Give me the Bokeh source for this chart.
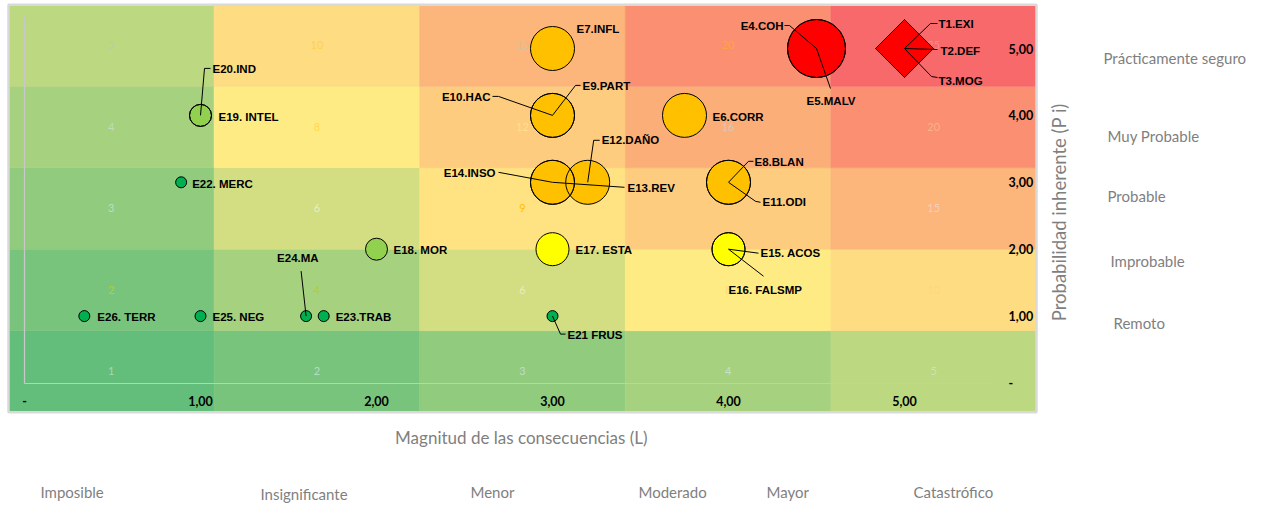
import numpy as np
from bokeh.plotting import figure
from bokeh.models import Range1d, LinearAxis, FixedTicker, ColumnDataSource
from bokeh.core.properties import value
from bokeh.embed import file_html
from bokeh.resources import INLINE

# ------------------------------------------------------------------ data
impact_labels = ["Imposible", "Insignificante", "Menor", "Moderado", "Mayor", "Catastrófico"]
prob_labels = ["Remoto", "Improbable", "Probable", "Muy Probable", "Prácticamente seguro"]
x_tick_values = [0, 1, 2, 3, 4, 5]
x_tick_labels = ["-", "1,00", "2,00", "3,00", "4,00", "5,00"]
y_tick_values = [0, 1, 2, 3, 4, 5]
y_tick_labels = ["-", "1,00", "2,00", "3,00", "4,00", "5,00"]
grid_cols = [1, 2, 3, 4, 5]          # consecuencia (L)
grid_rows = [1, 2, 3, 4, 5]          # probabilidad (P)

risk_ids = ["T1.EXI", "T2.DEF", "T3.MOG", "E4.COH", "E5.MALV", "E6.CORR", "E7.INFL",
            "E8.BLAN", "E9.PART", "E10.HAC", "E11.ODI", "E12.DAÑO", "E13.REV", "E14.INSO",
            "E15. ACOS", "E16. FALSMP", "E17. ESTA", "E18. MOR", "E19. INTEL", "E20.IND",
            "E21 FRUS", "E22. MERC", "E23.TRAB", "E24.MA", "E25. NEG", "E26. TERR"]
magnitud = [5, 5, 5, 4.5, 4.5, 3.75, 3, 4, 3, 3, 4, 3.2, 3, 3,
            4, 4, 3, 2, 1, 1, 3, 0.89, 1.7, 1.6, 1, 0.34]
probabilidad = [5, 5, 5, 5, 5, 4, 5, 3, 4, 4, 3, 3, 3, 3,
                2, 2, 2, 2, 4, 4, 1, 3, 1, 1, 1, 1]
nivel = [5, 5, 5, 5, 5, 4, 4, 4, 4, 4, 4, 4, 4, 4,
         3, 3, 3, 2, 2, 2, 1, 1, 1, 1, 1, 1]

# ------------------------------------------------------------------ styles / layout
W, H = 1258, 505
FONT_LBL = "Liberation Sans"
FONT_TXT = "Lato"
GREY = "#7f7f7f"

LEVEL_COLOR = {1: "#00b050", 2: "#92d050", 3: "#ffff00", 4: "#ffc000", 5: "#ff0000"}
LEVEL_SIZE = {1: 11, 2: 22, 3: 33, 4: 44, 5: 58}
DIAMOND_SIZE = 41

# heat-map geometry (canvas px)
HM_LEFT, HM_COLW, HM_ROWH, HM_BOTTOM = 8.0, 205.6, 81.5, 411.7
# scatter geometry (canvas px)
SX0, SXU, SY0, SYU = 24.0, 176.0, 382.5, 66.9

NUM_COLORS = {
    5: ["#b3d0a6", "#ffd24d", "#cfc3a3", "#ffa347", "#fb8a8a"],
    4: ["#c2dbb8", "#ffd94d", "#ffe08a", "#d8c8b8", "#fbb08a"],
    3: ["#c0dcc0", "#e8ecc8", "#ffc000", "#ffd070", "#f5d0b8"],
    2: ["#b0d030", "#b0d030", "#e6ecc8", "#ffd680", "#ffd680"],
    1: ["#a8d8b0", "#b8dcc0", "#c0dcc0", "#c8e0c8", "#d0e0b8"],
}

# label anchor offsets (px from point centre), alignment, leader polyline (px)
LABELS = {
    "T1.EXI": (34, -24.5, "left", [(0, 0), (26, -25), (33, -25)]),
    "T2.DEF": (36, 2, "left", [(0, 0), (33, 1)]),
    "T3.MOG": (34, 32, "left", [(0, 0), (27, 28), (33, 29)]),
    "E4.COH": (-33, -22.3, "right", [(0, 0), (-27, -23), (-32, -23)]),
    "E5.MALV": (-10, 52, "left", [(0, 0), (14, 40)]),
    "E6.CORR": (28, 2, "left", None),
    "E7.INFL": (24, -20, "left", None),
    "E8.BLAN": (26, -20, "left", [(0, 0), (20, -21), (25, -21)]),
    "E9.PART": (30, -29, "left", [(0, 0), (23, -30), (28, -30)]),
    "E10.HAC": (-62, -18, "right", [(0, 0), (-54, -19), (-60, -19)]),
    "E11.ODI": (34, 20, "left", [(0, 0), (27, 19), (32, 20)]),
    "E12.DAÑO": (14, -42, "left", [(0, 0), (6, -42), (12, -42)]),
    "E13.REV": (75, 6, "left", [(0, 0), (72, 5)]),
    "E14.INSO": (-57, -9, "right", [(0, 0), (-54, -10)]),
    "E15. ACOS": (32, 4, "left", [(0, 0), (30, 4)]),
    "E16. FALSMP": (0, 41, "left", [(0, 0), (35, 27)]),
    "E17. ESTA": (23, 1, "left", None),
    "E18. MOR": (17, 1, "left", None),
    "E19. INTEL": (18, 2, "left", None),
    "E20.IND": (12, -46, "left", [(0, 0), (4, -47), (10, -47)]),
    "E21 FRUS": (15, 19, "left", [(0, 0), (8, 18), (13, 18)]),
    "E22. MERC": (11, 2, "left", None),
    "E23.TRAB": (12, 1, "left", None),
    "E24.MA": (-29, -58, "left", [(0, 0), (-5, -45)]),
    "E25. NEG": (12, 1, "left", None),
    "E26. TERR": (13, 1, "left", None),
}

# ------------------------------------------------------------------ figure
p = figure(width=W, height=H, x_range=Range1d(0, W), y_range=Range1d(H, 0),
           x_axis_type=None, y_axis_type=None, toolbar_location=None,
           output_backend="svg", min_border=0, outline_line_color=None,
           background_fill_color="white", border_fill_color="white")
p.extra_x_ranges = {
    "hx": Range1d(-HM_LEFT / HM_COLW, (W - HM_LEFT) / HM_COLW),
    "sx": Range1d(-SX0 / SXU, (W - SX0) / SXU),
}
p.extra_y_ranges = {
    "hy": Range1d((HM_BOTTOM - H) / HM_ROWH, HM_BOTTOM / HM_ROWH),
    "sy": Range1d((SY0 - H) / SYU, SY0 / SYU),
}


def excel_scale(v, vmin, vmid, vmax):
    lo, mid, hi = (0x63, 0xBE, 0x7B), (0xFF, 0xEB, 0x84), (0xF8, 0x69, 0x6B)
    if v <= vmid:
        t, a, b = (v - vmin) / (vmid - vmin), lo, mid
    else:
        t, a, b = (v - vmid) / (vmax - vmid), mid, hi
    return "#%02x%02x%02x" % tuple(int(round(a[i] + (b[i] - a[i]) * t)) for i in range(3))


cells = [(c, r) for r in grid_rows for c in grid_cols]
vals = [c * r for c, r in cells]
vmin, vmid, vmax = min(vals), float(np.percentile(vals, 50)), max(vals)
hm = ColumnDataSource(dict(
    left=[c - 1 for c, r in cells], right=[c for c, r in cells],
    bottom=[r - 1 for c, r in cells], top=[r for c, r in cells],
    xc=[c - 0.5 for c, r in cells], yc=[r - 0.5 for c, r in cells],
    val=[str(v) for v in vals],
    fill=[excel_scale(v, vmin, vmid, vmax) for v in vals],
    tcol=[NUM_COLORS[r][c - 1] for c, r in cells],
))
p.quad(left="left", right="right", bottom="bottom", top="top", source=hm,
       fill_color="fill", line_color="fill", line_width=0.6,
       x_range_name="hx", y_range_name="hy")
p.text(x="xc", y="yc", text="val", source=hm, text_color="tcol",
       text_font=value(FONT_TXT), text_font_size="11px", text_align="center",
       text_baseline="middle", x_range_name="hx", y_range_name="hy")
# chart-area border
p.quad(left=[0], right=[len(grid_cols)], bottom=[0], top=[len(grid_rows)],
       fill_color=None, line_color="#d9d9d9", line_width=2.5,
       x_range_name="hx", y_range_name="hy")

# ------------------------------------------------------------------ axes
bottom_ax = LinearAxis(x_range_name="sx", y_range_name="sy", fixed_location=0,
                       bounds=(0, 5.5), ticker=FixedTicker(ticks=x_tick_values),
                       major_label_overrides=dict(zip(x_tick_values, x_tick_labels)))
left_ax = LinearAxis(x_range_name="sx", y_range_name="sy", fixed_location=0,
                     bounds=(0, 5.478), ticker=FixedTicker(ticks=[]))
right_ax = LinearAxis(x_range_name="sx", y_range_name="sy", fixed_location=5.5625,
                      ticker=FixedTicker(ticks=y_tick_values),
                      major_label_overrides=dict(zip(y_tick_values, y_tick_labels)))
for ax in (bottom_ax, left_ax, right_ax):
    ax.major_tick_line_color = None
    ax.minor_tick_line_color = None
    ax.major_tick_in = 0
    ax.major_tick_out = 0
    ax.minor_tick_in = 0
    ax.minor_tick_out = 0
    ax.axis_line_color = "#c8c8c8"
    ax.axis_line_width = 1.2
    ax.major_label_text_font = FONT_TXT
    ax.major_label_text_font_style = "bold"
    ax.major_label_text_font_size = "12.5px"
    ax.major_label_text_color = "black"
right_ax.axis_line_color = None
bottom_ax.major_label_standoff = 13
right_ax.major_label_standoff = 5
p.add_layout(bottom_ax, "below")
p.add_layout(left_ax, "left")
p.add_layout(right_ax, "right")

# ------------------------------------------------------------------ bubbles
n = len(risk_ids)
is_t = [rid.startswith("T") for rid in risk_ids]
circ = ColumnDataSource(dict(
    x=[magnitud[i] for i in range(n) if not is_t[i]],
    y=[probabilidad[i] for i in range(n) if not is_t[i]],
    size=[LEVEL_SIZE[nivel[i]] for i in range(n) if not is_t[i]],
    color=[LEVEL_COLOR[nivel[i]] for i in range(n) if not is_t[i]],
))
diam = ColumnDataSource(dict(
    x=[magnitud[i] for i in range(n) if is_t[i]],
    y=[probabilidad[i] for i in range(n) if is_t[i]],
    color=[LEVEL_COLOR[nivel[i]] for i in range(n) if is_t[i]],
))
p.scatter("x", "y", source=circ, marker="circle", size="size", fill_color="color",
          line_color=None, x_range_name="sx", y_range_name="sy")
p.scatter("x", "y", source=circ, marker="circle", size="size", fill_color=None,
          line_color="black", line_width=1, x_range_name="sx", y_range_name="sy")
p.scatter("x", "y", source=diam, marker="square", angle=np.pi / 4, size=DIAMOND_SIZE,
          fill_color="color", line_color="black", line_width=1,
          x_range_name="sx", y_range_name="sy")

# ------------------------------------------------------------------ leaders + labels
lx, ly = [], []
for i, rid in enumerate(risk_ids):
    leader = LABELS[rid][3]
    if leader:
        lx.append([magnitud[i] + dx / SXU for dx, dy in leader])
        ly.append([probabilidad[i] - dy / SYU for dx, dy in leader])
p.multi_line(lx, ly, line_color="black", line_width=1,
             x_range_name="sx", y_range_name="sy")

for align in ("left", "right"):
    idx = [i for i, rid in enumerate(risk_ids) if LABELS[rid][2] == align]
    p.text(x=[magnitud[i] + LABELS[risk_ids[i]][0] / SXU for i in idx],
           y=[probabilidad[i] - LABELS[risk_ids[i]][1] / SYU for i in idx],
           text=[risk_ids[i] for i in idx], text_color="black",
           text_font=value(FONT_LBL), text_font_style="bold", text_font_size="11.5px",
           text_align=align, text_baseline="middle",
           x_range_name="sx", y_range_name="sy")

# ------------------------------------------------------------------ outer texts (canvas px)
p.text(x=[1103, 1107, 1107, 1110, 1113], y=[57, 135, 195, 260, 322],
       text=prob_labels[::-1], text_color=GREY, text_font=value(FONT_TXT),
       text_font_size="15px", text_align="left", text_baseline="middle")
p.text(x=[40, 260, 470, 638, 766, 913], y=[491, 493, 491, 491, 491, 491],
       text=impact_labels, text_color=GREY, text_font=value(FONT_TXT),
       text_font_size="15px", text_align="left", text_baseline="middle")
p.text(x=[523], y=[437], text=["Magnitud de las consecuencias  (L)"], text_color=GREY,
       text_font=value(FONT_TXT), text_font_size="17px", text_align="center",
       text_baseline="middle")
p.text(x=[1058], y=[207], text=["Probabilidad  inherente  (P i)"], text_color=GREY,
       text_font=value(FONT_TXT), text_font_size="18.5px", text_align="center",
       text_baseline="middle", angle=np.pi / 2)

open("out.html", "w").write(file_html(p, INLINE))
